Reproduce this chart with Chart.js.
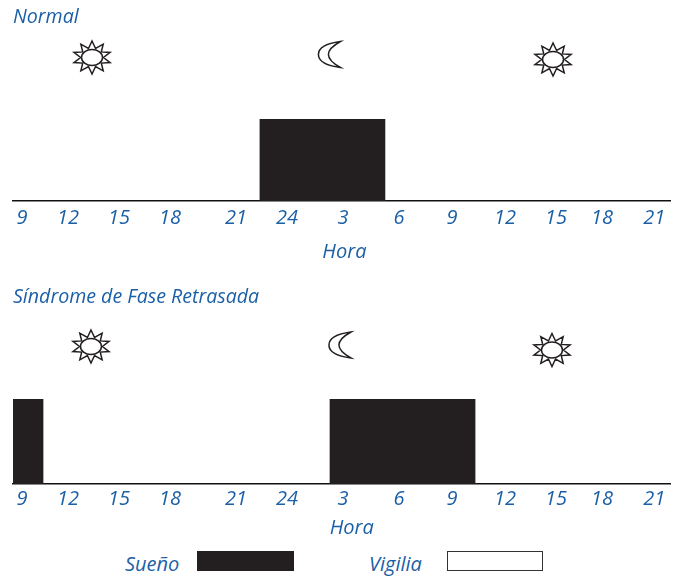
<!DOCTYPE html>
<html><head><meta charset="utf-8">
<style>
html,body{margin:0;padding:0;background:#fff;overflow:hidden}
#wrap{position:relative;width:677px;height:577px}
canvas{position:absolute;left:0}
#c1{top:0}#c2{top:280px}
.lg{position:absolute;font:italic 20px "Open Sans",sans-serif;color:#1b5fa6;line-height:24px}
.bx{position:absolute;top:551px;width:95px;height:20px;box-sizing:border-box}
</style></head><body>
<div id="wrap">
<canvas id="c1" width="677" height="270"></canvas>
<canvas id="c2" width="677" height="260"></canvas>
<div class="lg" style="left:125px;top:552px">Sueño</div>
<div class="bx" style="left:197px;width:97px;background:#231f20"></div>
<div class="lg" style="left:369px;top:552px">Vigilia</div>
<div class="bx" style="left:447px;width:96px;border:1.5px solid #333;background:#fff"></div>
</div>
<script src="https://cdn.jsdelivr.net/npm/chart.js@4/dist/chart.umd.min.js"></script>
<script>
// Hours elapsed since the first 9 o'clock tick.
const hourLabelsNormal = ['9','12','15','18','21','24','3','6','9','12','15','18','21'];
const hourLabelsDelayed = ['9','12','15','18','21','24','3','6','9','12','15','18','21'];
const tickHours = [0,2.62,5.52,8.43,12.19,15.09,18.28,21.47,24.49,27.5,30.41,33.03,36];
const sleepNormal = [[13.55,20.67]];
const sleepDelayed = [[-0.51,1.2],[17.54,25.8]];
const axisMin = -0.51, axisMax = 36.9;
const titleNormal = 'Normal', titleDelayed = 'Síndrome de Fase Retrasada';
const axisTitle = 'Hora';
const iconsNormal = [['sun',3.99],['moon',17.45],['sun',30.24]];
const iconsDelayed = [['sun',3.93],['moon',18.05],['sun',30.18]];

const BLUE = '#1b5fa6', INK = '#231f20', FONT = '"Open Sans",sans-serif';

function drawSun(c,x,y){
  c.beginPath();
  const n=10;
  for(let i=0;i<n*2;i++){
    const a=-Math.PI/2+i*Math.PI/n, o=i%2===0;
    const px=x+(o?19:11.5)*Math.cos(a), py=y+(o?16.5:9.5)*Math.sin(a);
    i?c.lineTo(px,py):c.moveTo(px,py);
  }
  c.closePath();c.stroke();
  c.beginPath();c.ellipse(x,y,10.5,8,0,0,Math.PI*2);c.fillStyle='#fff';c.fill();c.stroke();
}
function drawMoon(c,x,y){
  c.beginPath();
  c.moveTo(x+12,y-13);
  c.bezierCurveTo(x-3,y-11,x-10,y-6,x-10,y);
  c.bezierCurveTo(x-10,y+6,x-3,y+11,x+12,y+13);
  c.bezierCurveTo(x+3,y+8,x,y+4,x,y);
  c.bezierCurveTo(x,y-4,x+3,y-8,x+12,y-13);
  c.closePath();c.stroke();
}
const marks = {
  id:'marks',
  afterDraw(ch,_,o){
    const c=ch.ctx,s=ch.scales.x;
    c.save();c.strokeStyle=INK;c.lineWidth=1.5;
    o.icons.forEach(([k,h],i)=>(k==='sun'?drawSun:drawMoon)(c,s.getPixelForValue(h),o.iconY[i]));
    c.fillStyle=BLUE;c.font='italic 20px '+FONT;c.textAlign='center';c.textBaseline='middle';
    c.fillText(axisTitle,s.getPixelForValue(o.captionHour),o.captionY);
    c.restore();
  }
};
function panel(id,title,labels,ranges,areaH,tickPad,icons,iconY,captionHour,captionY){
  new Chart(document.getElementById(id),{
    type:'bar',
    data:{labels:[''],datasets:ranges.map(r=>({label:'Sueño',data:[r],backgroundColor:INK,
      barPercentage:1,categoryPercentage:1,grouped:false}))},
    options:{
      indexAxis:'y',responsive:false,animation:false,
      layout:{padding:{left:13,right:7,top:0,bottom:0}},
      plugins:{
        legend:{display:false},tooltip:{enabled:false},
        title:{display:true,text:title,align:'start',color:BLUE,
          font:{family:FONT,size:19.6,style:'italic',weight:'normal',lineHeight:1.2},
          padding:{top:6,bottom:119-6-23.5}},
        marks:{icons,iconY,captionHour,captionY}
      },
      scales:{
        y:{display:false,grid:{display:false}},
        x:{type:'linear',min:axisMin,max:axisMax,
          afterBuildTicks:a=>{a.ticks=tickHours.map(v=>({value:v}));},
          afterFit:a=>{a.height=document.getElementById(id).height-119-areaH;},
          grid:{display:false,drawTicks:false},
          border:{display:true,color:'#111',width:1.5},
          ticks:{color:BLUE,padding:tickPad,autoSkip:false,maxRotation:0,
            font:{family:FONT,size:20,style:'italic'},
            callback:(v,i)=>labels[i]}
        }
      }
    },
    plugins:[marks]
  });
}
panel('c1',titleNormal,hourLabelsNormal,sleepNormal,82,5,iconsNormal,[57.5,54.5,59.5],18.36,252.5);
panel('c2',titleDelayed,hourLabelsDelayed,sleepDelayed,85,3,iconsDelayed,[66.5,65,70],18.78,248);
</script>
</body></html>
